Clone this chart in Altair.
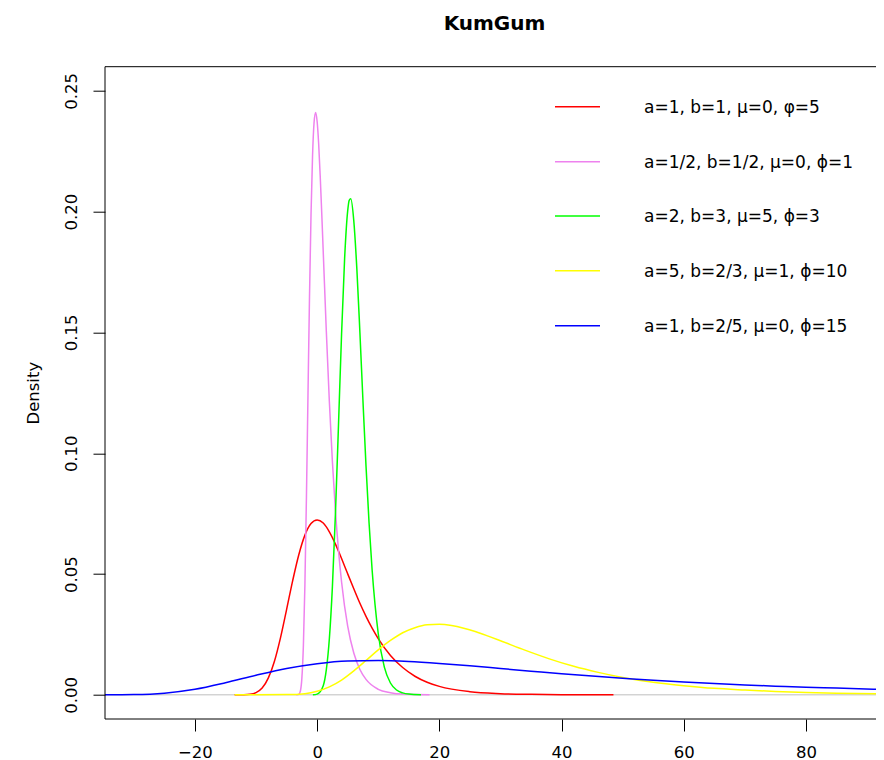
import altair as alt
import pandas as pd

# ---- data ----
red_x = [-13.5, -12, -11, -10, -9, -8, -7, -6, -5, -4, -3, -2, -1, 0, 1, 2, 3, 4, 5, 6,
         7, 8, 9, 10, 12, 14, 16, 18, 20, 25, 30, 35, 40, 48.5]
red_y = [0.0, 0.00004, 0.0002, 0.0009, 0.0028, 0.0069, 0.0138, 0.0236, 0.0353, 0.0473,
         0.0580, 0.0661, 0.0709, 0.0724, 0.0711, 0.0675, 0.0624, 0.0564, 0.0501, 0.0439,
         0.0379, 0.0325, 0.0276, 0.0233, 0.0163, 0.0113, 0.0077, 0.0052, 0.0035, 0.0013,
         0.0005, 0.0002, 0.00007, 0.0]

pink_x = [-3.4, -3, -2.75, -2.5, -2.25, -2, -1.75, -1.5, -1.25, -1,
          -0.75, -0.5, -0.25, 0, 0.25, 0.5, 0.75, 1, 1.5, 2,
          2.5, 3, 3.5, 4, 5, 6, 7, 8, 10, 12, 14, 18.4]
pink_y = [0.0, 0.0002, 0.0015, 0.0068, 0.0204, 0.0457, 0.0819, 0.1238, 0.1647, 0.1989,
          0.2232, 0.2369, 0.2410, 0.2373, 0.2281, 0.2150, 0.1996, 0.1833, 0.1507, 0.1214,
          0.0965, 0.0760, 0.0597, 0.0467, 0.0284, 0.0173, 0.0105, 0.0064, 0.0023, 0.0009,
          0.0003, 0.0]

green_x = [-0.7, 0, 1, 1.5, 2, 2.5, 3, 3.5, 4, 4.5,
           5, 5.25, 5.5, 6, 6.5, 7, 7.5, 8, 8.5, 9,
           10, 11, 12, 13, 14, 15, 17]
green_y = [0.0, 0.0003, 0.0038, 0.0103, 0.0232, 0.0448, 0.0753, 0.1120, 0.1494, 0.1807,
           0.2003, 0.2047, 0.2053, 0.1962, 0.1763, 0.1500, 0.1217, 0.0947, 0.0711, 0.0517,
           0.0254, 0.0115, 0.0049, 0.0020, 0.0008, 0.0003, 0.0]

yellow_x = [-13.5, -10, -5, -2, 0, 2, 4, 6, 8, 10,
            12, 14, 16, 18, 20, 22, 24, 26, 28, 30,
            34, 38, 42, 46, 50, 55, 60, 65, 70, 75,
            80, 85, 92.72]
yellow_y = [0.0, 0.0, 0.0001, 0.0005, 0.0015, 0.0033, 0.0061, 0.0099, 0.0142, 0.0186,
            0.0225, 0.0257, 0.0278, 0.0290, 0.0292, 0.0287, 0.0276, 0.0261, 0.0243, 0.0224,
            0.0185, 0.0149, 0.0118, 0.0093, 0.0072, 0.0052, 0.0038, 0.0027, 0.0020, 0.0014,
            0.0010, 0.0007, 0.0004]

blue_x = [-34.72, -30, -25, -20, -15, -10, -5, 0, 5, 10,
          15, 20, 25, 30, 35, 40, 45, 50, 55, 60,
          65, 70, 75, 80, 85, 92.72]
blue_y = [0.0000, 0.0001, 0.0007, 0.0023, 0.0050, 0.0081, 0.0109, 0.0129, 0.0140, 0.0142,
          0.0138, 0.0130, 0.0120, 0.0109, 0.0098, 0.0087, 0.0078, 0.0069, 0.0060, 0.0053,
          0.0047, 0.0041, 0.0036, 0.0031, 0.0028, 0.0022]

labels = ["a=1, b=1, μ=0, φ=5",
          "a=1/2, b=1/2, μ=0, ϕ=1",
          "a=2, b=3, μ=5, ϕ=3",
          "a=5, b=2/3, μ=1, ϕ=10",
          "a=1, b=2/5, μ=0, ϕ=15"]
colors = ["#FF0000", "#EE82EE", "#00FF00", "#FFFF00", "#0000FF"]
x_ticks = [-20, 0, 20, 40, 60, 80]
y_ticks = [0.0, 0.05, 0.10, 0.15, 0.20, 0.25]
x_domain = [-34.72, 91.47]
y_domain = [-0.01, 0.26]
title_text = "KumGum"

series = [(red_x, red_y), (pink_x, pink_y), (green_x, green_y),
          (yellow_x, yellow_y), (blue_x, blue_y)]

FONT = "DejaVu Sans"
W, H = 771, 652.3
xs = alt.Scale(domain=x_domain, nice=False, zero=False)
ys = alt.Scale(domain=y_domain, nice=False, zero=False)

x_axis = alt.Axis(values=x_ticks, title=None, labelPadding=13, labelFlush=False,
                  labelOverlap=False)
y_axis = alt.Axis(values=y_ticks, format=".2f", labelAngle=270, labelAlign="center",
                  labelBaseline="alphabetic", labelPadding=17, labelFlush=False,
                  labelOverlap=False,
                  title="Density", titleAngle=270, titleX=-66.5, titleY=326,
                  titleAlign="center", titleBaseline="alphabetic")

layers = []

zero_df = pd.DataFrame({"y": [0.0]})
layers.append(
    alt.Chart(zero_df).mark_rule(color="#BEBEBE", strokeWidth=1).encode(
        y=alt.Y("y:Q", scale=ys, axis=y_axis)
    )
)

for (sx, sy), col in zip(series, colors):
    df = pd.DataFrame({"x": sx, "y": sy})
    layers.append(
        alt.Chart(df).mark_line(color=col, strokeWidth=1.5, interpolate="monotone",
                                clip=True).encode(
            x=alt.X("x:Q", scale=xs, axis=x_axis),
            y=alt.Y("y:Q", scale=ys, axis=y_axis),
        )
    )

# plot box: left, top and bottom sides (the right side lies beyond the picture)
box_df = pd.DataFrame({"k": [0]})
layers.append(alt.Chart(box_df).mark_rule(color="black", strokeWidth=1).encode(
    x=alt.value(0), y=alt.value(0), y2=alt.value(H)))
layers.append(alt.Chart(box_df).mark_rule(color="black", strokeWidth=1).encode(
    x=alt.value(0), x2=alt.value(W), y=alt.value(0)))
layers.append(alt.Chart(box_df).mark_rule(color="black", strokeWidth=1).encode(
    x=alt.value(0), x2=alt.value(W), y=alt.value(H)))

# legend (inside plot, no box)
leg_rows = [40, 95, 149.3, 204, 259]
for lab, col, ry in zip(labels, colors, leg_rows):
    ldf = pd.DataFrame({"label": [lab]})
    layers.append(
        alt.Chart(ldf).mark_rule(color=col, strokeWidth=1.5).encode(
            x=alt.value(450), x2=alt.value(495), y=alt.value(ry)
        )
    )
    layers.append(
        alt.Chart(ldf).mark_text(align="left", baseline="alphabetic", font=FONT,
                                 fontSize=17, color="black").encode(
            x=alt.value(539), y=alt.value(ry + 6), text="label:N"
        )
    )

# title
tdf = pd.DataFrame({"t": [title_text]})
layers.append(
    alt.Chart(tdf).mark_text(align="center", baseline="alphabetic", font=FONT,
                             fontSize=20, fontWeight="bold", color="black").encode(
        x=alt.value(389.5), y=alt.value(-36.7), text="t:N"
    )
)

chart = alt.layer(*layers).properties(
    width=W,
    height=H,
    autosize=alt.AutoSizeParams(type="none"),
    padding={"left": 97, "top": 58.7, "right": 0, "bottom": 41},
).configure_view(
    strokeWidth=0
).configure_axis(
    grid=False, domain=False, tickColor="black", tickSize=12, tickWidth=1,
    labelColor="black", labelFont=FONT, labelFontSize=16.5,
    titleColor="black", titleFont=FONT, titleFontSize=16.5, titleFontWeight="normal",
)

chart.save("out.html", embed_options={"renderer": "svg", "actions": False})
